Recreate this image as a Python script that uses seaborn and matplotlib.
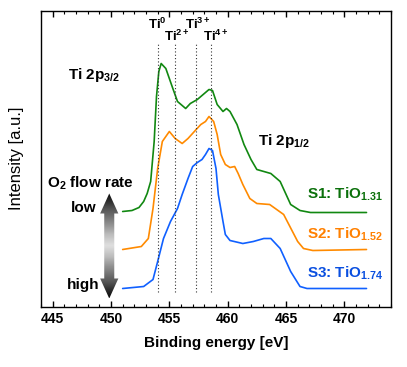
import numpy as np
import pandas as pd
import seaborn as sns
import matplotlib.pyplot as plt
from matplotlib.patches import Polygon


#
# data (binding energy in eV, intensity in a.u.)
#

s1_energy = [451.0, 451.8, 452.4, 452.8, 453.1, 453.4, 453.7, 453.9, 454.1, 454.3,
             454.7, 455.3, 455.7, 456.4, 456.8, 457.4, 457.9, 458.4, 458.7, 459.1,
             459.6, 459.9, 460.2, 460.8, 461.4, 462.0, 462.5, 463.1, 463.7, 464.5,
             465.4, 466.2, 467.1, 471.9]
s1_intensity = [95, 96, 99, 105, 113, 125, 165, 210, 235, 243,
                238, 218, 205, 198, 203, 207, 212, 217, 216, 202,
                195, 198, 195, 182, 162, 147, 137, 135, 133, 125,
                102, 96, 94, 94]

s2_energy = [451.0, 452.6, 453.2, 453.6, 454.0, 454.4, 454.7, 455.0, 455.5, 456.1,
             456.6, 457.3, 457.7, 458.1, 458.4, 458.8, 459.1, 459.4, 459.8, 460.2,
             460.6, 460.9, 461.3, 461.9, 462.5, 463.6, 464.8, 466.0, 466.5, 467.3,
             471.9]
s2_intensity = [57, 60, 68, 98, 138, 165, 170, 175, 168, 163,
                168, 177, 182, 185, 190, 185, 172, 152, 142, 139,
                140, 133, 122, 108, 103, 102, 92, 65, 58, 56,
                57]

s3_energy = [451.0, 452.8, 453.6, 454.0, 454.5, 455.1, 455.7, 456.1, 456.6, 457.0,
             457.4, 457.8, 458.1, 458.4, 458.7, 459.0, 459.2, 459.6, 459.8, 460.2,
             461.3, 462.2, 463.1, 463.7, 464.5, 465.4, 466.2, 466.8, 471.9]
s3_intensity = [18, 20, 27, 45, 68, 85, 98, 112, 128, 140,
                144, 147, 152, 158, 156, 138, 112, 85, 72, 66,
                63, 65, 68, 68, 58, 35, 20, 18, 18]

samples = ["S1", "S2", "S3"]
sample_labels = ["S1: TiO$_{1.31}$", "S2: TiO$_{1.52}$", "S3: TiO$_{1.74}$"]
label_heights = [112, 72, 33]

# oxidation state reference positions
states = ["Ti$^{0}$", "Ti$^{2+}$", "Ti$^{3+}$", "Ti$^{4+}$"]
state_energy = [454.05, 455.5, 457.25, 458.6]

xticks = [445, 450, 455, 460, 465, 470]

colors = ["#118811", "#ff8a00", "#1060ff"]
text_colors = ["#0b700b", "#ff8000", "#0a4fe0"]


#
# style
#

sns.set_theme(style="ticks")
plt.rcParams["font.family"] = ["Liberation Sans", "DejaVu Sans"]
plt.rcParams["font.weight"] = "bold"
plt.rcParams["text.color"] = "black"
plt.rcParams["axes.labelcolor"] = "black"
plt.rcParams["xtick.color"] = "black"
plt.rcParams["mathtext.fontset"] = "custom"
plt.rcParams["mathtext.rm"] = "Liberation Sans:bold"
plt.rcParams["mathtext.bf"] = "Liberation Sans:bold"
plt.rcParams["mathtext.default"] = "rm"

df = pd.concat([
    pd.DataFrame({"energy": e, "intensity": i, "sample": s})
    for e, i, s in zip([s1_energy, s2_energy, s3_energy],
                       [s1_intensity, s2_intensity, s3_intensity], samples)
])

fig = plt.figure(figsize=(4.07, 3.67), dpi=100)
ax = fig.add_axes([41 / 407, 1 - 306.5 / 367, 350 / 407, 296 / 367])

sns.lineplot(data=df, x="energy", y="intensity", hue="sample", palette=colors,
             linewidth=1.2, legend=False, ax=ax, sort=False)

# dotted markers for the oxidation states, labels staggered in two rows
ax.vlines(state_energy, 15, 263, colors="#333333", linestyles=(0, (1, 2)), linewidth=0.8)
label_shift = [-0.1, 0.15, 0.2, 0.4]
label_rows = [282, 270, 282, 270]
for st, e, dx, h in zip(states, state_energy, label_shift, label_rows):
    ax.text(e + dx, h, st, ha="center", va="center", fontsize=9.5, fontweight="bold")

ax.text(446.3, 232, "Ti 2p$_{3/2}$", ha="left", va="center", fontsize=11)
ax.text(462.6, 165, "Ti 2p$_{1/2}$", ha="left", va="center", fontsize=11)

for lab, h, c in zip(sample_labels, label_heights, text_colors):
    ax.text(473.3, h, lab, ha="right", va="center", fontsize=11, color=c)

ax.text(444.5, 123, "O$_2$ flow rate", ha="left", va="center", fontsize=11)
ax.text(447.7, 98, "low", ha="center", va="center", fontsize=11)
ax.text(447.6, 22, "high", ha="center", va="center", fontsize=11)

# double headed gradient arrow
xc, hw, sw = 449.85, 0.78, 0.43
arrow = Polygon([
    (xc, 113), (xc + hw, 93), (xc + sw, 93), (xc + sw, 28), (xc + hw, 28),
    (xc, 8), (xc - hw, 28), (xc - sw, 28), (xc - sw, 93), (xc - hw, 93),
], closed=True, facecolor="none", edgecolor="none")
ax.add_patch(arrow)
grad = np.abs(np.linspace(-1, 1, 200))[:, None] * np.ones((1, 10))
ax.imshow(grad, cmap="Greys", vmin=-0.3, vmax=1.05, aspect="auto",
          extent=(xc - hw, xc + hw, 8, 113), clip_path=arrow, zorder=3)

ax.set_xlim(444, 474)
ax.set_ylim(0, 296)
ax.set_xticks(xticks)
ax.set_xticks(np.arange(444, 475, 1), minor=True)
ax.set_yticks([])
ax.tick_params(axis="x", which="both", direction="in", top=True, labelsize=10, pad=4,
               colors="black")
ax.tick_params(axis="x", which="major", length=4, width=1)
ax.tick_params(axis="x", which="minor", length=2.5, width=0.8)
for lab in ax.get_xticklabels():
    lab.set_fontweight("bold")
for sp in ax.spines.values():
    sp.set_linewidth(1.0)
    sp.set_color("black")

ax.set_xlabel("Binding energy [eV]", fontsize=11, fontweight="bold", labelpad=7)
ax.set_ylabel("Intensity [a.u.]", fontsize=12, fontweight="normal", labelpad=12)

fig.savefig("out.png", dpi=100)
